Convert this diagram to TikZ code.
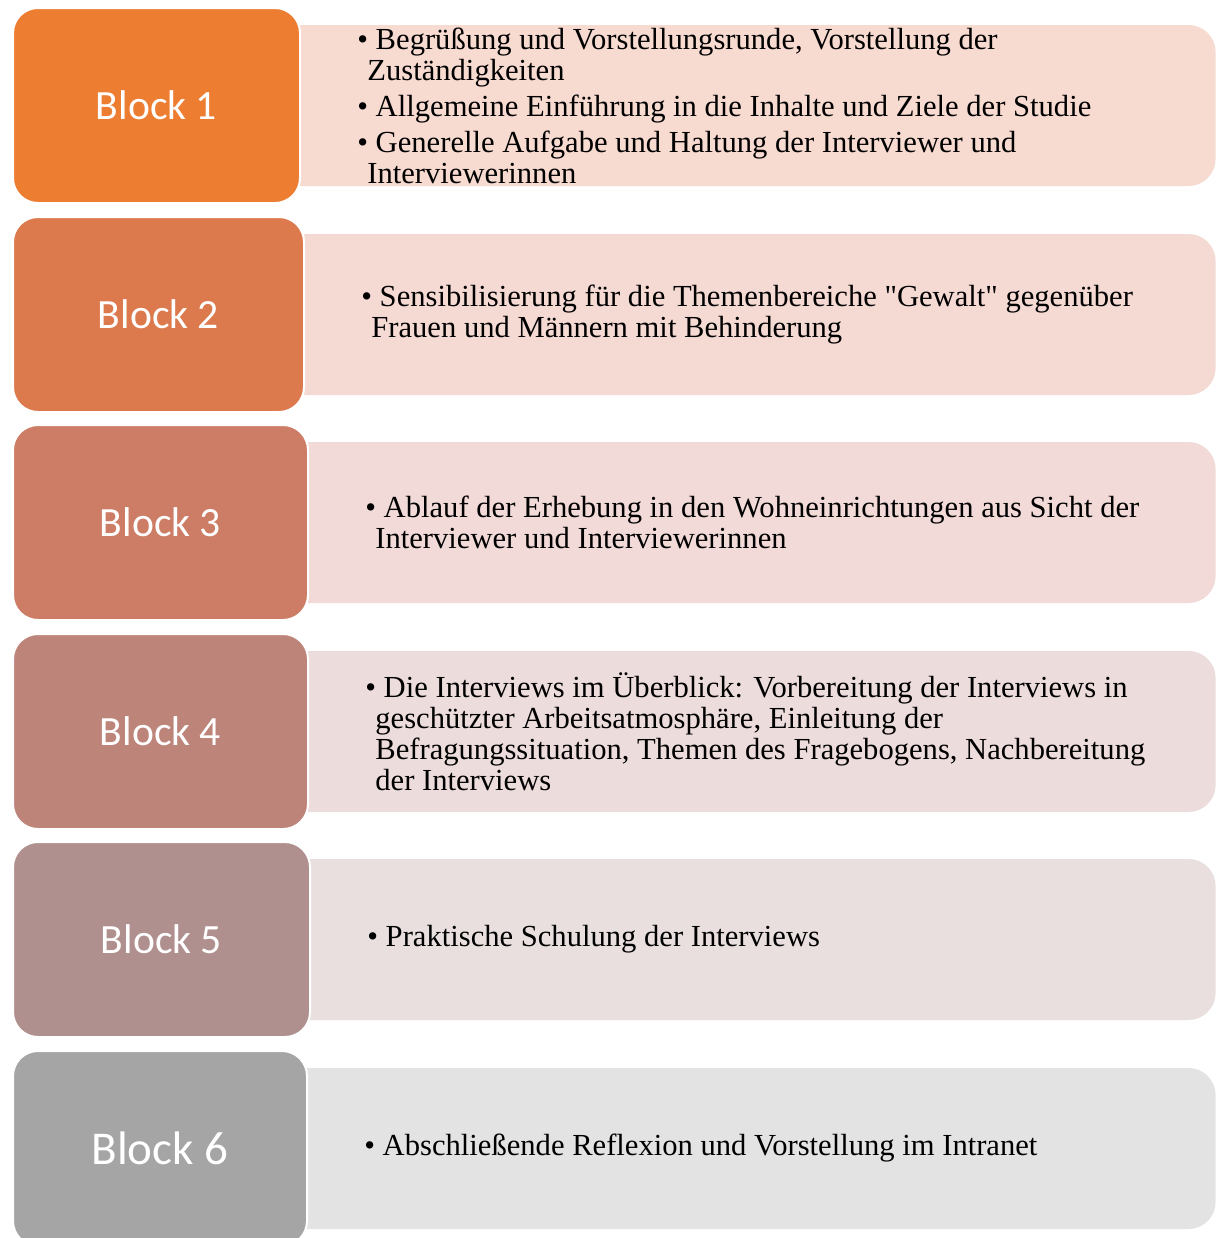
\documentclass[tikz,border=0pt]{standalone}
\usepackage{fontspec}
\setmainfont{Liberation Serif}
\newfontfamily\notefont{Liberation Serif}
\newfontfamily\blockfont{Carlito}
\usepackage{tikz}
\usetikzlibrary{backgrounds}

\definecolor{block1}{HTML}{ED7D31}
\definecolor{block2}{HTML}{DC7A4E}
\definecolor{block3}{HTML}{CD7D65}
\definecolor{block4}{HTML}{BD8479}
\definecolor{block5}{HTML}{B0908E}
\definecolor{block6}{HTML}{A5A5A5}
\definecolor{detail1}{HTML}{F7DAD0}
\definecolor{detail2}{HTML}{F5D9D3}
\definecolor{detail3}{HTML}{F1DAD7}
\definecolor{detail4}{HTML}{EDDCDC}
\definecolor{detail5}{HTML}{E9DFDF}
\definecolor{detail6}{HTML}{E3E3E3}

\newcommand{\bitem}{\textbullet\ }
\newcommand{\bcont}{\hspace*{5pt}}

\tikzset{
	block/.style={draw=white, line width=1pt, rounded corners=12.5pt, inner sep=0pt,
		minimum height=97.5pt, anchor=west, text=white},
	detail/.style={rounded corners=13.5pt, minimum width=470pt, minimum height=80.5pt, anchor=east},
	note/.style={anchor=west, align=left, inner sep=0pt, font=\notefont\fontsize{15.3}{15.5}\selectfont},
}

\begin{document}
\begin{tikzpicture}[x=0.5pt,y=-0.5pt]
	\useasboundingbox (0,0) rectangle (1216,1238);
	
	\foreach \n/\w/\cy/\fs in {1/143.5/105.5/20.8, 2/145.5/314.5/20.8, 3/147.5/522.5/20.8,
		4/147.5/731.5/20.8, 5/148.5/939.5/20.8, 6/147/1148.5/23.5}
	{
		\node[block, fill=block\n, minimum width=\w pt,
			font=\blockfont\fontsize{\fs}{\fs}\selectfont] (block\n) at (12,\cy) {Block \n};
		\begin{pgfonlayer}{background}
			\node[detail, fill=detail\n] (detail\n) at (1216,\cy) {};
		\end{pgfonlayer}
	}
	
	\node[note] (note1) at ([xshift=28pt]block1.east) {\bitem Begrüßung und Vorstellungsrunde, Vorstellung der\\
		\bcont Zuständigkeiten\\[2.5pt]
		\bitem Allgemeine Einführung in die Inhalte und Ziele der Studie\\[2.5pt]
		\bitem Generelle Aufgabe und Haltung der Interviewer und\\
		\bcont Interviewerinnen};
	\node[note] (note2) at ([xshift=28pt]block2.east) {\bitem Sensibilisierung für die Themenbereiche "Gewalt" gegenüber\\
		\bcont Frauen und Männern mit Behinderung};
	\node[note] (note3) at ([xshift=28pt]block3.east) {\bitem Ablauf der Erhebung in den Wohneinrichtungen aus Sicht der\\
		\bcont Interviewer und Interviewerinnen};
	\node[note] (note4) at ([xshift=28pt]block4.east) {\bitem Die Interviews im Überblick: Vorbereitung der Interviews in\\
		\bcont geschützter Arbeitsatmosphäre, Einleitung der\\
		\bcont Befragungssituation, Themen des Fragebogens, Nachbereitung\\
		\bcont der Interviews};
	\node[note] (note5) at ([xshift=28pt]block5.east) {\bitem Praktische Schulung der Interviews};
	\node[note] (note6) at ([xshift=28pt]block6.east) {\bitem Abschließende Reflexion und Vorstellung im Intranet};
\end{tikzpicture}
\end{document}
